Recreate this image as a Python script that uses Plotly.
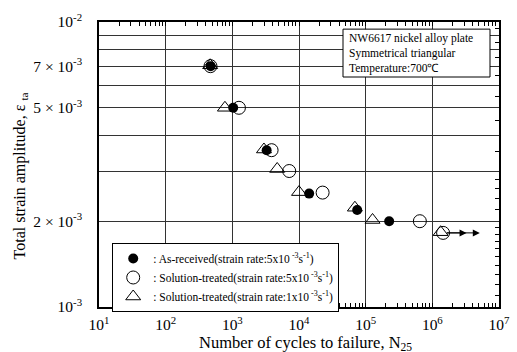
import numpy as np
import plotly.graph_objects as go

FONT = "Liberation Serif"

# As-received, strain rate 5e-3 (filled circles)
ar_n = [473, 1030, 3270, 14200, 74600, 225000]
ar_e = [7.0e-3, 5.0e-3, 3.55e-3, 2.50e-3, 2.19e-3, 2.0e-3]

# Solution-treated, strain rate 5e-3 (open circles)
st5_n = [470, 1256, 3880, 7130, 22600, 650000, 1.45e6]
st5_e = [7.0e-3, 5.0e-3, 3.55e-3, 3.0e-3, 2.52e-3, 2.0e-3, 1.82e-3]

# Solution-treated, strain rate 1e-3 (open triangles)
st1_n = [465, 774, 2980, 4710, 10000, 68900, 126800, 1.33e6]
st1_e = [7.05e-3, 5.0e-3, 3.57e-3, 3.05e-3, 2.53e-3, 2.23e-3, 2.02e-3, 1.83e-3]

# run-out arrow tips (cycles)
runout_tips = [3.26e6, 5.15e6]

x_tickvals = [1e1, 1e2, 1e3, 1e4, 1e5, 1e6, 1e7]
x_ticktext = ["10<sup>1</sup>", "10<sup>2</sup>", "10<sup>3</sup>", "10<sup>4</sup>",
              "10<sup>5</sup>", "10<sup>6</sup>", "10<sup>7</sup>"]
y_tickvals = [1e-3, 2e-3, 5e-3, 7e-3, 1e-2]
y_ticktext = ["10<sup>-3</sup>", "2 × 10<sup>-3</sup>", "5 × 10<sup>-3</sup>",
              "7 × 10<sup>-3</sup>", "10<sup>-2</sup>"]
y_minor_grid = [3e-3, 4e-3, 6e-3, 8e-3, 9e-3]
y_right_ticks = [1.1e-3, 1.2e-3, 1.3e-3, 1.4e-3, 1.5e-3, 1.6e-3, 1.7e-3, 1.8e-3, 1.9e-3,
                 2.2e-3, 2.4e-3, 2.6e-3, 2.8e-3, 3.5e-3, 4.5e-3, 5.5e-3, 6.5e-3,
                 7.5e-3, 8.5e-3, 9.5e-3]

info_lines = ["NW6617 nickel alloy plate", "Symmetrical triangular", "Temperature:700℃"]

fig = go.Figure()

fig.add_trace(go.Scatter(
    x=ar_n, y=ar_e, mode="markers",
    name=": As-received(strain rate:5x10<sup> -3</sup>s<sup>-1</sup>)",
    marker=dict(symbol="circle", size=10, color="black")))
fig.add_trace(go.Scatter(
    x=st5_n, y=st5_e, mode="markers",
    name=": Solution-treated(strain rate:5x10<sup> -3</sup>s<sup>-1</sup>)",
    marker=dict(symbol="circle-open", size=13, color="black", line=dict(width=1))))
fig.add_trace(go.Scatter(
    x=st1_n, y=st1_e, mode="markers",
    name=": Solution-treated(strain rate:1x10<sup> -3</sup>s<sup>-1</sup>)",
    marker=dict(symbol="triangle-up-open", size=13, color="black", line=dict(width=1))))

# invisible trace for right-hand tick axis
fig.add_trace(go.Scatter(x=[1e1], y=[1e-3], yaxis="y2", mode="markers",
                         marker=dict(opacity=0), showlegend=False, hoverinfo="skip"))

# run-out arrows
start_n = st5_n[-1]
start_e = st5_e[-1]
for tip in runout_tips:
    fig.add_annotation(x=np.log10(tip), y=np.log10(start_e), ax=np.log10(start_n * 1.08),
                       ay=np.log10(start_e), xref="x", yref="y", axref="x", ayref="y",
                       showarrow=True, arrowhead=2, arrowsize=1.4, arrowwidth=1,
                       arrowcolor="black", text="")

# info box
fig.add_shape(type="rect", xref="paper", yref="paper", x0=0.61, x1=0.9775, y0=0.807, y1=0.975,
              line=dict(color="black", width=1), fillcolor="white", layer="above")
fig.add_annotation(x=0.62, y=0.891, xref="paper", yref="paper",
                   xanchor="left", yanchor="middle", text="<br>".join(info_lines),
                   showarrow=False, align="left",
                   font=dict(family=FONT, size=11.5, color="black"))

# axis titles (placed to match the original's positions)
fig.add_annotation(x=-0.1975, y=0.458, xref="paper", yref="paper", textangle=-90,
                   xanchor="center", yanchor="middle", showarrow=False,
                   text="Total strain amplitude, ε <sub>ta</sub>",
                   font=dict(family=FONT, size=16, color="black"))
fig.add_annotation(x=0.515, y=-0.125, xref="paper", yref="paper",
                   xanchor="center", yanchor="middle", showarrow=False,
                   text="Number of cycles to failure, N<sub>25</sub>",
                   font=dict(family=FONT, size=16.5, color="black"))

axis_font = dict(family=FONT, size=15.5, color="black")

fig.update_layout(
    width=517, height=352,
    margin=dict(l=99, r=18, t=22, b=45),
    paper_bgcolor="white", plot_bgcolor="white",
    font=dict(family=FONT, color="black"),
    showlegend=True,
    legend=dict(x=0.033, y=0.2246, xanchor="left", yanchor="top",
                bordercolor="black", borderwidth=1, bgcolor="white",
                font=dict(family=FONT, size=11.5, color="black"),
                itemwidth=30, tracegroupgap=0, traceorder="normal"),
    xaxis=dict(type="log", range=[1, 7], tickvals=x_tickvals, ticktext=x_ticktext,
               tickfont=axis_font, showgrid=True, gridcolor="#333", gridwidth=1,
               showline=True, linecolor="black", linewidth=1.5, mirror="allticks",
               ticks="inside", ticklen=0, ticklabelstandoff=3, automargin=False,
               minor=dict(ticks="inside", ticklen=4, tickcolor="black", dtick="D1", showgrid=False),
               zeroline=False),
    yaxis=dict(type="log", range=[-3, -2], tickvals=y_tickvals, ticktext=y_ticktext,
               tickfont=axis_font, showgrid=True, gridcolor="#333", gridwidth=1,
               showline=True, linecolor="black", linewidth=1.5, mirror=True,
               ticks="", ticklabelstandoff=12, automargin=False,
               minor=dict(tickvals=y_minor_grid, showgrid=True, gridcolor="#333",
                          gridwidth=1, ticks=""),
               zeroline=False),
    yaxis2=dict(type="log", range=[-3, -2], overlaying="y", side="right",
                tickvals=y_right_ticks, showticklabels=False, ticks="inside",
                ticklen=4, tickcolor="black", showgrid=False, zeroline=False,
                showline=False, automargin=False),
)

fig.write_html("out.html", config={"displayModeBar": False},
               post_script="document.body.style.margin='0';")
